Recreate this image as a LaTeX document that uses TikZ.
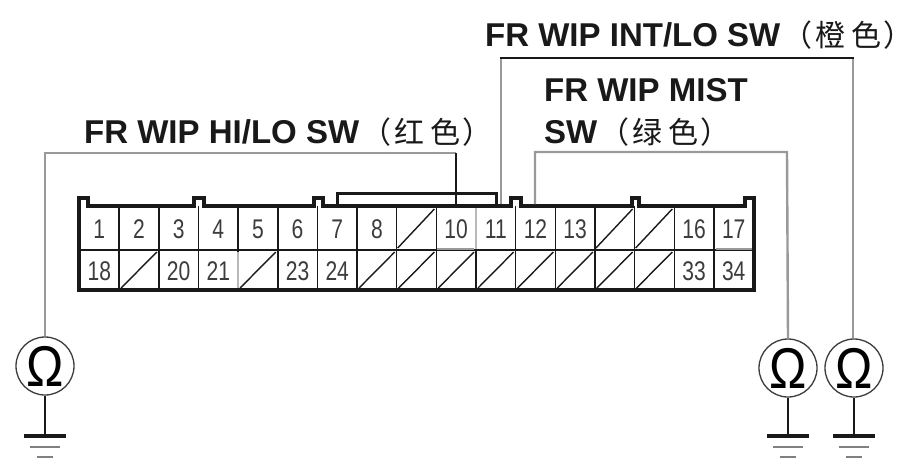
\documentclass[tikz,border=0pt]{standalone}
\usepackage{graphicx}
\usepackage{fontspec}
\setmainfont{Liberation Sans}
\newfontfamily\cjkf[LetterSpace=20]{Noto Sans CJK SC}
\newfontfamily\parenf[RawFeature=+palt]{Noto Sans CJK SC}
\definecolor{wiregray}{gray}{0.6}
\definecolor{ink}{gray}{0.1}
\newcommand{\lat}[1]{{\fontsize{33}{36}\selectfont\textbf{#1}}}
\newcommand{\han}[1]{{\fontsize{30}{36}\selectfont\kern16pt{\parenf （}\kern4pt{\cjkf #1}\kern3pt{\parenf ）}\kern-8pt}}
\newcommand{\omegaglyph}{\scalebox{1}[1.15]{Ω}}
\tikzset{
  x=1pt,y=-1pt,
  cellnum/.style={inner sep=0pt,anchor=base,font=\fontsize{27}{27}\selectfont,text=ink!85!white,xscale=0.78},
  wirelabel/.style={inner sep=0pt,anchor=base west,text=ink},
  ohm/.style={circle,draw=ink!85!white,line width=1.3pt,minimum size=58pt,inner sep=0pt,font=\fontsize{50}{50}\selectfont},
  grayw/.style={draw=wiregray,line width=2.4pt},
  blackw/.style={draw=ink,line width=2.6pt},
  outline/.style={draw=ink,line width=3.8pt,line join=miter},
  grid/.style={draw=ink,line width=1.5pt},
  diag/.style={draw=ink,line width=1.4pt},
  gnd1/.style={draw=ink,line width=4.5pt},
  gnd2/.style={draw=gray,line width=2.5pt},
}
\begin{document}
\begin{tikzpicture}
\useasboundingbox[fill=white] (0,0) rectangle (897,459);
% grid
\foreach \i in {1,...,16} \draw[grid] ({79.5+39.65*\i},206) -- ({79.5+39.65*\i},290);
\draw[grid] (79.5,250) -- (753.5,250);
\draw[draw=wiregray,line width=2.5pt] (437,249) -- (474,249) (716,249) -- (752,249);
\draw[draw=white,line width=1.8pt] (476,208) -- (476,249) (238.1,252) -- (238.1,288);
\draw[draw=wiregray!70!white,line width=1.6pt] (476,208) -- (476,249) (238.1,252) -- (238.1,288);
% outline
\draw[outline] (79,290) -- (79,198) -- (88,198) -- (88,206) -- (194,206) -- (194,198) -- (204,198) -- (204,206)
  -- (314,206) -- (314,198) -- (323,198) -- (323,206) -- (511,206) -- (511,198) -- (521,198) -- (521,206)
  -- (632,206) -- (632,198) -- (639,198) -- (639,206) -- (745,206) -- (745,198) -- (754,198) -- (754,290) -- cycle;
% cell labels
\foreach \c/\t in {1/1,2/2,3/3,4/4,5/5,6/6,7/7,8/8,10/10,11/11,12/12,13/13,16/16,17/17}
  \node[cellnum] (top\c) at ({79.5+39.65*(\c-0.5)},238) {\t};
\foreach \c/\t in {1/18,3/20,4/21,6/23,7/24,16/33,17/34}
  \node[cellnum] (bot\c) at ({79.5+39.65*(\c-0.5)},280) {\t};
% diagonals
\foreach \c in {9,14,15} \draw[diag] ({79.5+39.65*(\c-1)+1},248) -- ({79.5+39.65*\c-2},209);
\foreach \c in {2,5,8,9,10,11,12,13,14,15} \draw[diag] ({79.5+39.65*(\c-1)+2},288) -- ({79.5+39.65*\c-2},252);
% pin tops
\coordinate (pinA) at (456,204);
\coordinate (pinB) at (501,204);
\coordinate (pinC) at (535,204);
\coordinate (brL) at (337,204);
\coordinate (brR) at (496,204);
% bracket
\draw[blackw,line width=3pt] (brL) -- (337,193) -- (496,193) -- (brR);
% omega meters
\node[ohm] (mL) at (45,366) {\omegaglyph};
\node[ohm] (mM) at (788,368) {\omegaglyph};
\node[ohm] (mR) at (854,368) {\omegaglyph};
% wires
\draw[grayw] (mL.north) -- (45,153) -- (456,153);
\draw[blackw] (456,153) -- (pinA);
\draw[grayw] (pinB) -- (501,58);
\draw[grayw] (853,58) -- (853,338);
\draw[blackw,line width=2.4pt] (500,58) -- (854,58);
\draw[grayw] (pinC) -- (535,152) -- (787,152) -- (mM.north);
% grounds
\foreach \m/\x in {mL/45,mM/788,mR/854}{
  \coordinate (g\m) at (\x,436);
  \draw[ink,line width=1.8pt] (\m.south) -- (g\m);
  \draw[gnd1] (\x-21,436) -- (\x+21,436);
  \draw[gnd2] (\x-15,447) -- (\x+15,447);
  \draw[gnd2] (\x-8,457) -- (\x+8,457);
}
% labels
\node[wirelabel] (l1) at (84,143) {\lat{FR WIP HI/LO SW}\han{红色}};
\node[wirelabel] (l2) at (485,46) {\lat{FR WIP INT/LO SW}\han{橙色}};
\node[wirelabel] (l3) at (544,101) {\lat{FR WIP MIST}};
\node[wirelabel] (l4) at (544,143) {\lat{SW}\han{绿色}};
\end{tikzpicture}
\end{document}
